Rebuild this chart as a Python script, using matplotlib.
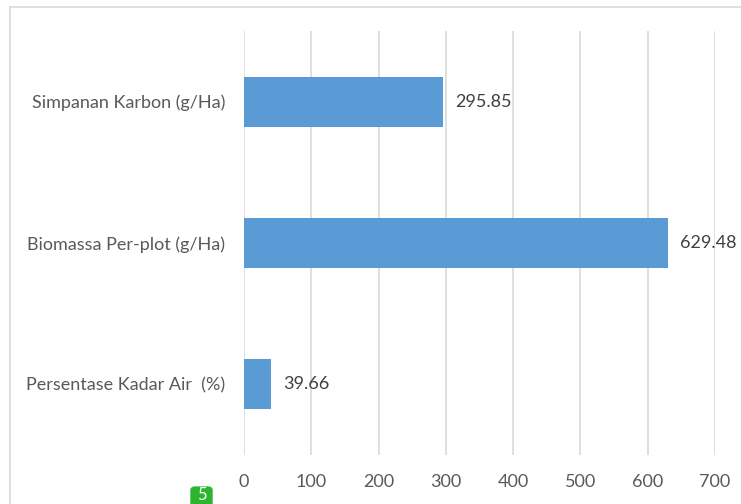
import matplotlib.pyplot as plt
from matplotlib.patches import FancyBboxPatch

categories = ['Persentase Kadar Air  (%)', 'Biomassa Per-plot (g/Ha)', 'Simpanan Karbon (g/Ha)']
values = [39.66, 629.48, 295.85]
value_labels = ['39.66', '629.48', '295.85']
xticks = [0, 100, 200, 300, 400, 500, 600, 700]

plt.rcParams['font.family'] = ['Lato', 'DejaVu Sans']
text_col = '#595959'
grid_col = '#d9d9d9'

fig = plt.figure(figsize=(7.41, 5.04), dpi=100)

# outer chart frame (light gray, top and left visible)
fig.add_artist(plt.Line2D([10 / 741, 1], [1 - 7 / 504, 1 - 7 / 504], color=grid_col, lw=1.2))
fig.add_artist(plt.Line2D([10 / 741, 10 / 741], [0, 1 - 7 / 504], color=grid_col, lw=1.2))

ax = fig.add_axes([244 / 741, 49 / 504, 471 / 741, 424 / 504])
ypos = range(len(categories))
ax.barh(ypos, values, height=0.354, color='#5B9BD5', zorder=3)
ax.set_xlim(0, 700)
ax.set_ylim(-0.5, 2.5)
ax.set_xticks(xticks)
ax.set_xticklabels([str(t) for t in xticks])
ax.set_yticks(list(ypos))
ax.set_yticklabels(categories)
ax.grid(axis='x', color=grid_col, lw=1.2, zorder=0)
for s in ax.spines.values():
    s.set_visible(False)
ax.tick_params(axis='both', length=0, colors=text_col, labelsize=13)
ax.tick_params(axis='y', pad=13.5)
ax.tick_params(axis='x', pad=14)

for y, v, lab in zip(ypos, values, value_labels):
    ax.annotate(lab, (v, y), xytext=(9, 0), textcoords='offset points',
                va='center', ha='left', fontsize=13, color='#404040')

# small green page badge at the bottom
fig.add_artist(FancyBboxPatch((191 / 741, -0.01), 21 / 741, 22 / 504,
                              boxstyle='round,pad=0,rounding_size=0.006',
                              transform=fig.transFigure, color='#2db52d'))
fig.text(201.5 / 741, 1 / 504, '5', color='white', fontsize=12, ha='center', va='bottom')

fig.savefig('out.png', dpi=100)
